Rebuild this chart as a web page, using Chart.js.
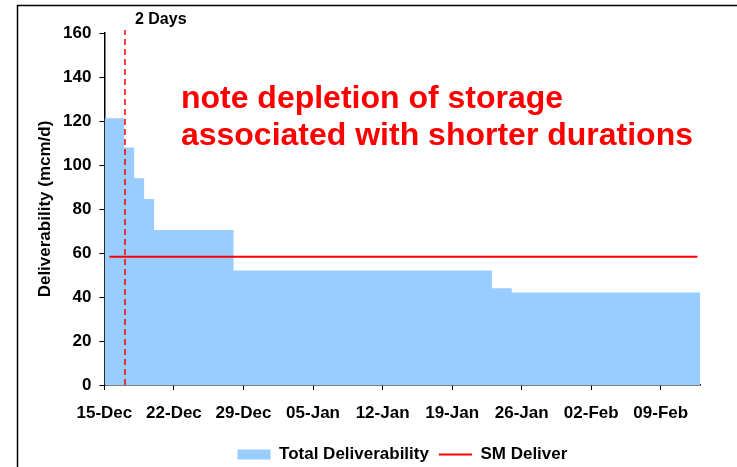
<!DOCTYPE html>
<html>
<head>
<meta charset="utf-8">
<script src="https://cdn.jsdelivr.net/npm/chart.js@4/dist/chart.umd.min.js"></script>
<style>
  html, body { margin: 0; padding: 0; background: #fff; }
  canvas { display: block; }
</style>
</head>
<body>
<canvas id="deliverabilityChart" width="737" height="467"></canvas>
<script>
// days after 15-Dec where each step starts, and the deliverability level for that step
const stepDays = [0, 2, 3, 4, 5, 13, 39, 41, 60];
const totalDeliverability = [121.2, 108, 94, 84.5, 70.5, 52, 44, 42, 42];

// SM Deliver level (flat line)
const smDays = [0.5, 59.7];
const smDeliver = [58.3, 58.3];

// x tick labels, one per week starting 15-Dec
const tickLabels = ["15-Dec", "22-Dec", "29-Dec", "05-Jan", "12-Jan", "19-Jan", "26-Jan", "02-Feb", "09-Feb"];

const markerDay = 2.07;
const markerLabel = "2 Days";
const noteLines = ["note depletion of storage", "associated with shorter durations"];

const FONT = "'Liberation Sans', Arial, sans-serif";

const extras = {
  id: "extras",
  beforeDraw(chart) {
    const ctx = chart.ctx;
    ctx.save();
    ctx.strokeStyle = "#000";
    ctx.lineWidth = 1.5;
    ctx.beginPath();
    ctx.moveTo(17.5, 467);
    ctx.lineTo(17.5, 5.5);
    ctx.lineTo(737, 5.5);
    ctx.stroke();
    ctx.restore();
  },
  afterDatasetsDraw(chart) {
    const ctx = chart.ctx;
    const x = chart.scales.x;
    const y = chart.scales.y;
    const mx = x.getPixelForValue(markerDay);

    ctx.save();
    ctx.strokeStyle = "#ff0000";
    ctx.lineWidth = 1.5;
    ctx.setLineDash([6, 4]);
    ctx.beginPath();
    ctx.moveTo(mx, y.getPixelForValue(0));
    ctx.lineTo(mx, chart.chartArea.top - 3);
    ctx.stroke();
    ctx.setLineDash([]);

    ctx.fillStyle = "#000";
    ctx.font = "bold 16px " + FONT;
    ctx.textBaseline = "alphabetic";
    ctx.fillText(markerLabel, mx + 10, chart.chartArea.top - 9);

    ctx.fillStyle = "#ff0000";
    ctx.font = "bold 32px " + FONT;
    ctx.fillText(noteLines[0], x.getPixelForValue(7.7), y.getPixelForValue(125.8));
    ctx.fillText(noteLines[1], x.getPixelForValue(7.7), y.getPixelForValue(109.1));
    ctx.restore();
  }
};

new Chart(document.getElementById("deliverabilityChart"), {
  type: "line",
  data: {
    datasets: [
      {
        label: "Total Deliverability",
        data: stepDays.map((d, i) => ({ x: d, y: totalDeliverability[i] })),
        stepped: "before",
        fill: "origin",
        backgroundColor: "#99ccff",
        borderColor: "#99ccff",
        borderWidth: 0,
        pointRadius: 0,
        order: 2
      },
      {
        label: "SM Deliver",
        data: smDays.map((d, i) => ({ x: d, y: smDeliver[i] })),
        borderColor: "#ff0000",
        backgroundColor: "#ff0000",
        borderWidth: 2,
        pointRadius: 0,
        fill: false,
        order: 1
      }
    ]
  },
  options: {
    responsive: false,
    animation: false,
    devicePixelRatio: 1,
    layout: { padding: { top: 33, right: 36.5, left: 0, bottom: -6 } },
    plugins: {
      tooltip: { enabled: false },
      legend: {
        position: "bottom",
        fullSize: false,
        labels: {
          color: "#000",
          font: { family: FONT, size: 17, weight: "bold" },
          usePointStyle: true,
          pointStyleWidth: 33,
          boxHeight: 10,
          padding: 10,
          generateLabels(chart) {
            return chart.data.datasets.map((ds, i) => ({
              text: ds.label,
              datasetIndex: i,
              fillStyle: ds.backgroundColor,
              strokeStyle: ds.borderColor,
              lineWidth: i === 0 ? 0 : 2,
              pointStyle: i === 0 ? "rect" : "line",
              fontColor: "#000"
            }));
          }
        }
      }
    },
    scales: {
      x: {
        type: "linear",
        min: 0,
        max: 60,
        afterFit(scale) { scale.height = 51; },
        grid: { display: true, drawOnChartArea: false, drawTicks: true, tickLength: 5, color: "#000" },
        border: { color: "#000", width: 1.5 },
        ticks: {
          stepSize: 7,
          includeBounds: false,
          autoSkip: false,
          maxRotation: 0,
          padding: 13,
          color: "#000",
          font: { family: FONT, size: 17, weight: "bold" },
          callback: v => tickLabels[v / 7]
        }
      },
      y: {
        min: 0,
        max: 160,
        afterFit(scale) { scale.width = 104.4; },
        grid: { display: true, drawOnChartArea: false, drawTicks: true, tickLength: 5, color: "#000" },
        border: { color: "#000", width: 1.5 },
        ticks: {
          stepSize: 20,
          padding: 8,
          color: "#000",
          font: { family: FONT, size: 17, weight: "bold" }
        },
        title: {
          display: true,
          text: "Deliverability (mcm/d)",
          color: "#000",
          padding: { top: 35, bottom: 0 },
          font: { family: FONT, size: 17, weight: "bold" }
        }
      }
    }
  },
  plugins: [extras]
});
</script>
</body>
</html>
